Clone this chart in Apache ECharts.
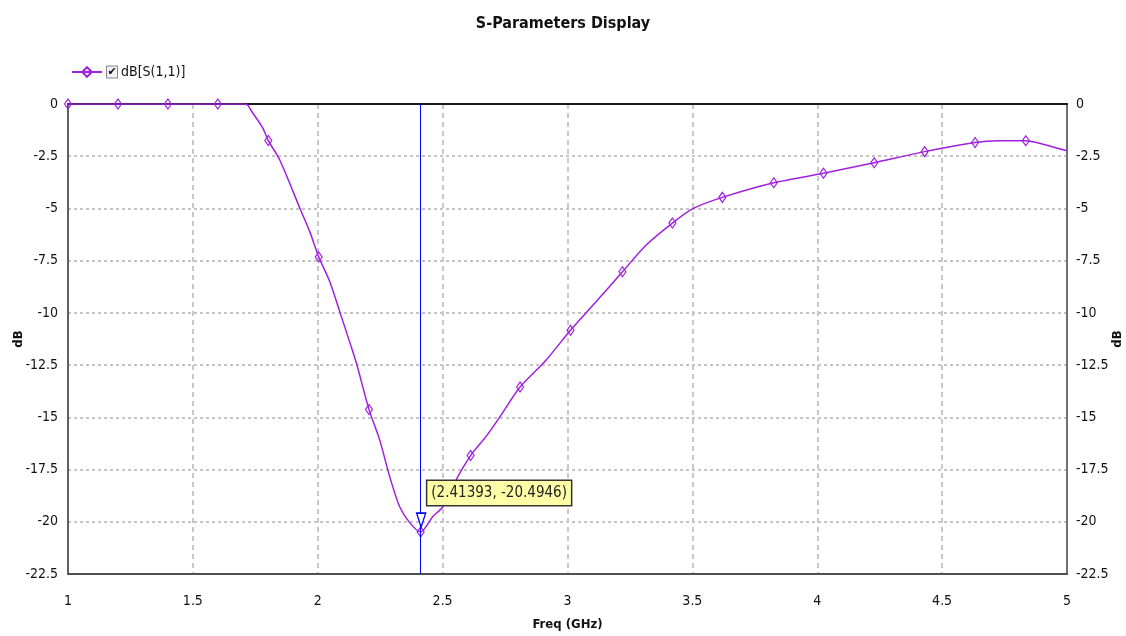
<!DOCTYPE html>
<html>
<head>
<meta charset="utf-8">
<script src="https://cdn.jsdelivr.net/npm/echarts@6/dist/echarts.min.js"></script>
<style>html,body{margin:0;padding:0;background:#fff;}#c{width:1126px;height:636px;}</style>
</head>
<body>
<div id="c"></div>
<script>
// ---- data ----
const seriesName = 'dB[S(1,1)]';
// curve samples (frequency GHz, dB)
const lineFreq = [1.70, 1.72, 1.73, 1.78, 1.848, 1.928, 1.968, 2.048, 2.088, 2.128, 2.155, 2.248, 2.288, 2.328, 2.368, 2.461, 2.501, 2.561, 2.675, 2.728, 2.915, 3.115, 3.315, 3.5, 4.728, 4.9, 5.0];
const lineDB   = [0, -0.05, -0.25, -1.15, -2.68, -4.98, -6.11, -8.5, -9.94, -11.4, -12.41, -16.08, -17.84, -19.28, -20.04, -19.75, -19.28, -17.84, -15.9, -15.0, -12.25, -9.46, -6.75, -5.02, -1.76, -1.91, -2.24];
// marker points shown as diamonds
const markFreq = [1.0, 1.2, 1.4, 1.6, 1.802, 2.004, 2.205, 2.412, 2.612, 2.81, 3.012, 3.22, 3.42, 3.62, 3.826, 4.025, 4.228, 4.43, 4.632, 4.835];
const markDB   = [0, 0, 0, 0, -1.75, -7.32, -14.62, -20.49, -16.83, -13.55, -10.83, -8.03, -5.70, -4.47, -3.77, -3.32, -2.81, -2.28, -1.84, -1.76];
// cursor readout
const cursorFreq = 2.41393;
const cursorDB = -20.4946;
// axes
const xMin = 1, xMax = 5, xStep = 0.5;
const yMin = -22.5, yMax = 0, yStep = 2.5;

const FONT = "'DejaVu Sans Condensed', 'Liberation Sans Narrow', sans-serif";
const PURPLE = '#a020e0';

const pts = [];
lineFreq.forEach((f, i) => pts.push({ value: [f, lineDB[i]], symbol: 'none' }));
markFreq.forEach((f, i) => pts.push({ value: [f, markDB[i]] }));
pts.sort((a, b) => a.value[0] - b.value[0]);

const chart = echarts.init(document.getElementById('c'), null, { renderer: 'canvas' });
chart.setOption({
  animation: false,
  backgroundColor: '#ffffff',
  title: {
    text: 'S-Parameters Display',
    left: 'center', top: 11,
    textStyle: { fontFamily: FONT, fontSize: 16, fontWeight: 'bold', color: '#111' }
  },
  legend: {
    left: 66, top: 60,
    itemWidth: 30, itemHeight: 12, itemGap: 4,
    data: [seriesName],
    formatter: name => '{box|✔}{t| ' + name + '}',
    textStyle: {
      fontFamily: FONT, fontSize: 14, color: '#111',
      rich: {
        box: { width: 10, height: 11, lineHeight: 11, align: 'center', fontSize: 11, fontFamily: 'DejaVu Sans', color: '#111',
               borderColor: '#888', borderWidth: 1, backgroundColor: '#f2f2f2' },
        t: { fontFamily: FONT, fontSize: 14, color: '#111' }
      }
    }
  },
  grid: { left: 68, right: 59, top: 104, bottom: 62, containLabel: false, outerBoundsMode: 'none' },
  xAxis: [{
    type: 'value', min: xMin, max: xMax, interval: xStep,
    name: 'Freq (GHz)', nameLocation: 'middle', nameGap: 44, nameMoveOverlap: false,
    nameTextStyle: { fontFamily: FONT, fontSize: 13, fontWeight: 'bold', color: '#111' },
    axisLine: { show: true, onZero: false, lineStyle: { color: '#505050', width: 2 } },
    axisTick: { show: false },
    axisLabel: { margin: 20, fontFamily: FONT, fontSize: 14, color: '#111' },
    splitLine: { show: true, lineStyle: { color: '#c8c8c8', width: 2, type: [5, 4] } }
  }, {
    type: 'value', min: xMin, max: xMax, position: 'top',
    axisLine: { show: true, onZero: false, lineStyle: { color: '#1a1a1a', width: 2 } },
    axisTick: { show: false }, axisLabel: { show: false }, splitLine: { show: false }
  }],
  yAxis: [{
    type: 'value', min: yMin, max: yMax, interval: yStep, position: 'left',
    name: 'dB', nameLocation: 'middle', nameGap: 43, nameRotate: 90, nameMoveOverlap: false,
    nameTextStyle: { fontFamily: FONT, fontSize: 13, fontWeight: 'bold', color: '#111' },
    axisLine: { show: true, onZero: false, lineStyle: { color: '#606060', width: 2 } },
    axisTick: { show: false },
    axisLabel: { margin: 10, fontFamily: FONT, fontSize: 14, color: '#111' },
    splitLine: { show: true, lineStyle: { color: '#c4c4c4', width: 2, type: [3, 3] } }
  }, {
    type: 'value', min: yMin, max: yMax, interval: yStep, position: 'right',
    name: 'dB', nameLocation: 'middle', nameGap: 44, nameRotate: 90, nameMoveOverlap: false,
    nameTextStyle: { fontFamily: FONT, fontSize: 13, fontWeight: 'bold', color: '#111' },
    axisLine: { show: true, onZero: false, lineStyle: { color: '#707070', width: 2 } },
    axisTick: { show: false },
    axisLabel: { margin: 9, fontFamily: FONT, fontSize: 14, color: '#111' },
    splitLine: { show: false }
  }],
  series: [{
    name: seriesName,
    type: 'line',
    xAxisIndex: 0, yAxisIndex: 0,
    data: pts,
    smooth: 0.25,
    symbol: 'diamond',
    symbolSize: [7, 10],
    showSymbol: true,
    lineStyle: { color: PURPLE, width: 1.5 },
    itemStyle: { color: 'rgba(255,255,255,0)', borderColor: PURPLE, borderWidth: 1.2 },
    z: 3,
    markLine: {
      silent: true, symbol: ['none', 'none'], animation: false,
      label: { show: false },
      lineStyle: { color: '#0000ff', width: 1, type: 'solid' },
      data: [{ xAxis: cursorFreq }]
    },
    markPoint: {
      silent: true, animation: false,
      data: [
        { coord: [cursorFreq, cursorDB], symbol: 'path://M0,0 L10,0 L5,14 Z', symbolSize: [9, 14], symbolOffset: [0, -12],
          itemStyle: { color: '#ffffff', borderColor: '#0000ff', borderWidth: 1.5 }, label: { show: false } },
        { coord: [cursorFreq, cursorDB], symbol: 'rect', symbolSize: 1,
          itemStyle: { color: 'rgba(0,0,0,0)' },
          label: {
            show: true, position: 'inside', offset: [78, -39],
            formatter: '(' + cursorFreq + ', ' + cursorDB + ')',
            fontFamily: FONT, fontSize: 15, color: '#222',
            backgroundColor: '#ffffa8', borderColor: '#333', borderWidth: 1.5,
            padding: [5, 4, 4, 4]
          } }
      ]
    }
  }]
});
</script>
</body>
</html>
